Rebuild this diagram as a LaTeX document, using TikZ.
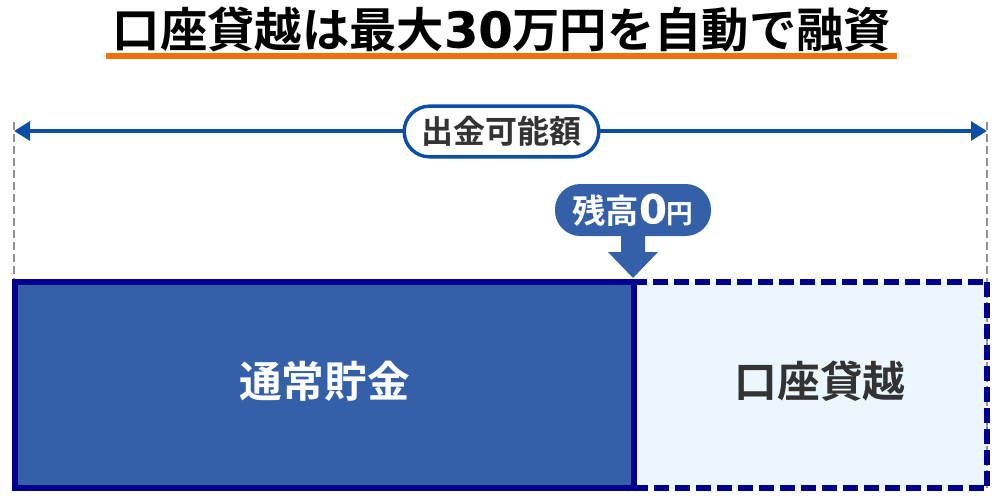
\documentclass[tikz,border=0pt]{standalone}
\usepackage{fontspec}
\setmainfont{Noto Sans CJK JP}[BoldFont={Noto Sans CJK JP Bold}]
\newfontfamily\latnum{DejaVu Sans}[FakeBold=0.5]
\usetikzlibrary{arrows.meta}
\definecolor{navy}{HTML}{00008F}
\definecolor{midblue}{HTML}{3360A9}
\definecolor{paleblue}{HTML}{EBF6FF}
\definecolor{arrowblue}{HTML}{0B4EA8}
\definecolor{inkdark}{HTML}{333333}
\definecolor{orangeline}{HTML}{F26F0A}
\tikzset{
  px/.style={x=0.75pt,y=-0.75pt},
  guide/.style={draw=gray!85,line width=1.5pt,dash pattern=on 6pt off 3pt},
  span/.style={draw=arrowblue,line width=3pt,{Triangle[length=12pt,width=14pt]}-{Triangle[length=12pt,width=14pt]}},
  pill/.style={draw=arrowblue,fill=white,line width=2.6pt,rounded corners=19pt,minimum width=146pt,minimum height=38pt,inner sep=0pt,text=inkdark,font=\bfseries\fontsize{24}{24}\selectfont},
  callout/.style={fill=midblue,rounded corners=19pt,minimum width=117pt,minimum height=39pt,inner sep=0pt,text=white,font=\bfseries\fontsize{25}{25}\selectfont},
  solidbox/.style={fill=midblue,draw=navy,line width=4.5pt,outer sep=0pt,inner sep=0pt},
  dashbox/.style={fill=paleblue,outer sep=0pt,inner sep=0pt},
  dashedge/.style={draw=navy,line width=4.5pt,dash pattern=on 11.25pt off 4.5pt},
  boxlabel/.style={font=\bfseries\fontsize{32}{32}\selectfont,inner sep=0pt},
  titletext/.style={text=black,font=\bfseries\fontsize{35.5}{36}\selectfont,inner sep=0pt},
  rule/.style={fill=orangeline,inner sep=0pt,outer sep=0pt}
}
\begin{document}
\begin{tikzpicture}[px]
\useasboundingbox (0,0) rectangle (1000,496);
\node[titletext] (title) at (502,29.5) {口座貸越は最大{\latnum\fontsize{37}{36}\selectfont 30}万円を自動で融資};
\node[rule,minimum width=593pt,minimum height=4.5pt] (underline) at (501.5,56) {};
\coordinate (gl1) at (14,122); \coordinate (gl2) at (14,279);
\coordinate (gr1) at (987,122); \coordinate (gr2) at (987,488);
\draw[guide] (gl1) -- (gl2);
\coordinate (al) at (14,131); \coordinate (ar) at (987,131);
\draw[span] (al) -- (ar);
\node[pill] (amount) at (501.5,131.5) {出金可能額};
\node[dashbox,minimum width=264.75pt,minimum height=154.5pt,anchor=north west] (overdraft) at (634,282) {};
\draw[guide] (gr1) -- (gr2);
\coordinate (c1) at (632,282); \coordinate (c2) at (984,282);
\coordinate (c3) at (987,282); \coordinate (c4) at (987,488);
\coordinate (c5) at (984,488); \coordinate (c6) at (634,488);
\draw[dashedge] (c1) -- (c2);
\draw[dashedge] (c3) -- (c4);
\draw[dashedge] (c5) -- (c6);
\node[solidbox,minimum width=464.25pt,minimum height=154.5pt,anchor=north west] (savings) at (15,282) {};
\node[boxlabel,text=white] (savingslabel) at (324.5,381) {通常貯金};
\node[boxlabel,text=inkdark] (overdraftlabel) at (820,381) {口座貸越};
\node[callout] (zero) at (633,210) {\raisebox{0.7pt}{残高{\latnum\fontsize{30}{30}\selectfont 0}{\fontsize{20}{20}\selectfont 円}}};
\fill[midblue] (621,234) -- (645,234) -- (645,252) -- (658,252) -- (633,278) -- (608,252) -- (621,252) -- cycle;
\end{tikzpicture}
\end{document}
